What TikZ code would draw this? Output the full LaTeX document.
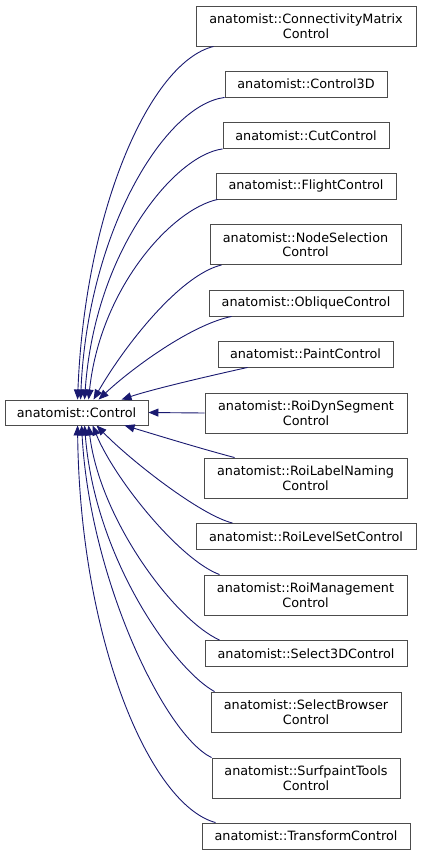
\documentclass[tikz,border=0pt]{standalone}
\usepackage{fontspec}
\setmainfont{DejaVu Sans}
\usetikzlibrary{arrows.meta}
\definecolor{midnight}{HTML}{191970}

\begin{document}
\begin{tikzpicture}[x=1pt, y=-1pt,
        % Standard style for the class boxes
        cls/.style={draw=black!70, fill=white, line width=0.9pt,
        inner sep=0pt, align=center,
        font=\fontsize{12.8}{14.5}\selectfont, minimum height=26pt},
        % Boxes whose name is split on two lines
        twoline/.style={minimum height=40pt},
        % Inheritance edge, head on the base class
        edge/.style={draw=midnight, line width=0.9pt,
        -{Triangle[length=10pt,width=8pt]}}
    ]
    \useasboundingbox (0,0) rectangle (421,855);

    % --- Base class ---
    \node[cls, minimum width=143pt, minimum height=25pt] (ctrl) at (76.5,412.5) {anatomist::Control};

    % --- Derived classes, one column ---
    \node[cls, twoline, minimum width=220pt] (conn) at (306,26) {anatomist::ConnectivityMatrix\\Control};
    \node[cls, minimum width=162pt] (c3d) at (306,84) {anatomist::Control3D};
    \node[cls, minimum width=166pt] (cut) at (306,135.5) {anatomist::CutControl};
    \node[cls, minimum width=180pt] (flight) at (306,186) {anatomist::FlightControl};
    \node[cls, twoline, minimum width=191pt] (nodesel) at (305.5,244.5) {anatomist::NodeSelection\\Control};
    \node[cls, minimum width=194pt] (oblique) at (306,303) {anatomist::ObliqueControl};
    \node[cls, minimum width=175pt] (paint) at (305.5,354) {anatomist::PaintControl};
    \node[cls, twoline, minimum width=202pt] (roidyn) at (306,413) {anatomist::RoiDynSegment\\Control};
    \node[cls, twoline, minimum width=203pt] (roilabel) at (305.5,478) {anatomist::RoiLabelNaming\\Control};
    \node[cls, minimum width=220pt] (roilevel) at (306,536.5) {anatomist::RoiLevelSetControl};
    \node[cls, twoline, minimum width=203pt] (roimgmt) at (305.5,595) {anatomist::RoiManagement\\Control};
    \node[cls, minimum width=202pt] (sel3d) at (306,653.5) {anatomist::Select3DControl};
    \node[cls, twoline, minimum width=190pt] (selbrowse) at (306,712) {anatomist::SelectBrowser\\Control};
    \node[cls, twoline, minimum width=188pt] (surfpaint) at (306,778) {anatomist::SurfpaintTools\\Control};
    \node[cls, minimum width=208pt] (transform) at (306,836) {anatomist::TransformControl};

    % --- Edges into the top of the base class ---
    \draw[edge] ([xshift=18pt]conn.south west) .. controls (150,62) and (85,210) .. ([xshift=73pt]ctrl.north west);
    \draw[edge] ([xshift=0pt]c3d.south west) .. controls (165,105) and (88,230) .. ([xshift=76pt]ctrl.north west);
    \draw[edge] ([xshift=0pt]cut.south west) .. controls (175,155) and (95,250) .. ([xshift=80pt]ctrl.north west);
    \draw[edge] ([xshift=2pt]flight.south west) .. controls (170,210) and (100,290) .. ([xshift=84pt]ctrl.north west);
    \draw[edge] ([xshift=12pt]nodesel.south west) .. controls (180,275) and (125,345) .. ([xshift=89pt]ctrl.north west);
    \draw[edge] ([xshift=23pt]oblique.south west) .. controls (190,325) and (130,370) .. ([xshift=94pt]ctrl.north west);
    \draw[edge] ([xshift=30pt]paint.south west) .. controls (200,378) and (150,390) .. ([xshift=117pt]ctrl.north west);

    % --- Edge into the side of the base class ---
    \draw[edge] (roidyn.west) -- (ctrl.east);

    % --- Edges into the bottom of the base class ---
    \draw[edge] ([xshift=31pt]roilabel.north west) .. controls (195,447) and (150,433) .. ([xshift=120pt]ctrl.south west);
    \draw[edge] ([xshift=37pt]roilevel.north west) .. controls (200,515) and (130,460) .. ([xshift=92pt]ctrl.south west);
    \draw[edge] ([xshift=16pt]roimgmt.north west) .. controls (180,560) and (115,480) .. ([xshift=88pt]ctrl.south west);
    \draw[edge] ([xshift=15pt]sel3d.north west) .. controls (175,620) and (100,520) .. ([xshift=84pt]ctrl.south west);
    \draw[edge] ([xshift=4pt]selbrowse.north west) .. controls (175,670) and (95,560) .. ([xshift=80pt]ctrl.south west);
    \draw[edge] ([xshift=0pt]surfpaint.north west) .. controls (165,735) and (90,580) .. ([xshift=77pt]ctrl.south west);
    \draw[edge] ([xshift=14pt]transform.north west) .. controls (150,805) and (80,640) .. ([xshift=73pt]ctrl.south west);

\end{tikzpicture}
\end{document}
